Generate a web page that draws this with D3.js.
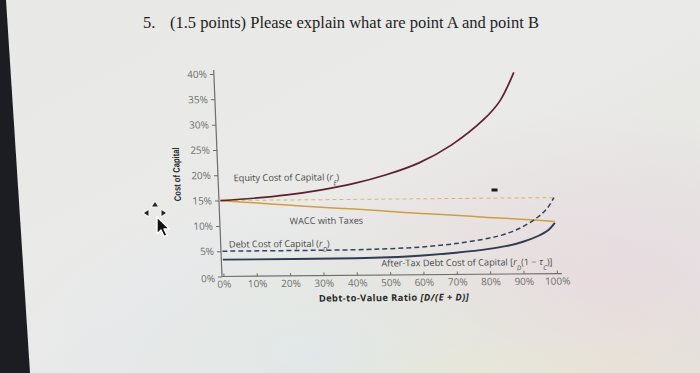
<!DOCTYPE html>
<html>
<head>
<meta charset="UTF-8">
<title>Cost of capital vs leverage</title>
<script src="https://d3js.org/d3.v7.min.js"></script>
<style>
  body { margin: 0; }
  .tick text { font-family: "Open Sans", sans-serif; font-size: 10px; fill: #707070; }
  .lbl { font-family: "Open Sans", sans-serif; font-size: 9.2px; fill: #4a4a4a; }
</style>
</head>
<body>
<script>
// values (percent)
const equityD    = [0, 10, 20, 30, 40, 50, 60, 70, 80, 85, 89.5];
const equityCost = [15, 15.4, 16.0, 16.9, 18.1, 19.8, 22.1, 25.6, 30.6, 34.2, 39.8];

const waccD   = [0, 10, 20, 30, 40, 50, 60, 70, 80, 90, 100];
const waccTax = [15, 14.5, 14.0, 13.5, 13.1, 12.6, 12.1, 11.7, 11.2, 10.8, 10.3];

const pretaxD    = [0, 100];
const pretaxWacc = [15, 15];

const debtD        = [0, 40, 50, 60, 70, 80, 85, 90, 95, 98, 100];
const debtCost     = [5, 5.05, 5.2, 5.5, 6.1, 7.1, 7.9, 9.2, 11.2, 13.0, 15];
const afterTaxCost = [3.33, 3.36, 3.5, 3.8, 4.3, 5.0, 5.5, 6.3, 7.5, 8.6, 10];

const xTicks = [0, 10, 20, 30, 40, 50, 60, 70, 80, 90, 100];
const yTicks = [0, 5, 10, 15, 20, 25, 30, 35, 40];

const W = 700, H = 373;
const svg = d3.select('body').append('svg').attr('width', W).attr('height', H);

// paper background
const defs = svg.append('defs');
const bg = defs.append('linearGradient').attr('id', 'paper')
  .attr('x1', 0).attr('y1', 0).attr('x2', 1).attr('y2', 1);
bg.append('stop').attr('offset', 0).attr('stop-color', '#e8e8e6');
bg.append('stop').attr('offset', 0.5).attr('stop-color', '#eaeae8');
bg.append('stop').attr('offset', 1).attr('stop-color', '#e2e3dd');
svg.append('rect').attr('width', W).attr('height', H).attr('fill', 'url(#paper)');

const glows = [
  {id: 'g1', cx: 0.62, cy: 1.0, c: '#f0f0b8'},
  {id: 'g2', cx: 0.85, cy: 0.75, c: '#e8d8e0'},
  {id: 'g3', cx: 0.45, cy: 0.95, c: '#dfe6f0'}
];
glows.forEach(g => {
  const r = defs.append('radialGradient').attr('id', g.id).attr('cx', g.cx).attr('cy', g.cy).attr('r', 0.45);
  r.append('stop').attr('offset', 0).attr('stop-color', g.c).attr('stop-opacity', 0.8);
  r.append('stop').attr('offset', 1).attr('stop-color', g.c).attr('stop-opacity', 0);
  svg.append('rect').attr('width', W).attr('height', H).attr('fill', 'url(#' + g.id + ')');
});

// dark edge on the left of the photo
svg.append('path').attr('d', 'M0,0L6,0L30,373L0,373Z').attr('fill', '#1c1d22');

// question
svg.append('text').attr('x', 143).attr('y', 28)
  .style('font-family', '"Liberation Serif", serif').style('font-size', '16.5px').attr('fill', '#1e1e1e')
  .text('5.');
svg.append('text').attr('x', 170).attr('y', 28)
  .style('font-family', '"Liberation Serif", serif').style('font-size', '16.5px').attr('fill', '#1e1e1e')
  .text('(1.5 points) Please explain what are point A and point B');

// chart, slightly sheared like the photo
const ox = 222, oy = 276.5;
const x = d3.scaleLinear().domain([0, 100]).range([223.5, 557]);
const y = d3.scaleLinear().domain([0, 40]).range([oy, 74]);

const g = svg.append('g')
  .attr('transform', `translate(${ox},${oy}) skewX(2.3) skewY(-0.5) translate(${-ox},${-oy})`);

// axes
g.append('line').attr('x1', ox).attr('x2', ox).attr('y1', 70).attr('y2', oy)
  .attr('stroke', '#6d6d6d').attr('stroke-width', 1.2);
g.append('line').attr('x1', ox).attr('x2', 562).attr('y1', oy).attr('y2', oy)
  .attr('stroke', '#6d6d6d').attr('stroke-width', 1.2);

const yAxis = g.append('g').attr('transform', `translate(${ox},0)`)
  .call(d3.axisLeft(y).tickValues(yTicks).tickFormat(d => d + '%').tickSize(4).tickPadding(3));
yAxis.select('.domain').remove();
yAxis.selectAll('.tick line').attr('stroke', '#6d6d6d');
yAxis.selectAll('.tick').filter(d => d === 0).select('text').attr('dy', '0.5em').attr('x', -7);

const xAxis = g.append('g').attr('transform', `translate(0,${oy})`)
  .call(d3.axisBottom(x).tickValues(xTicks).tickFormat(d => d + '%').tickSize(-3).tickPadding(4));
xAxis.select('.domain').remove();
xAxis.selectAll('.tick line').attr('stroke', '#6d6d6d');

// curves
const line = d3.line().curve(d3.curveCatmullRom.alpha(0.5)).x(d => x(d[0])).y(d => y(d[1]));
const series = [
  {xs: pretaxD, ys: pretaxWacc, color: '#dcb864', w: 1, dash: '4,3'},
  {xs: waccD, ys: waccTax, color: '#cf9f3e', w: 1.5, dash: null},
  {xs: debtD, ys: debtCost, color: '#34405c', w: 1.5, dash: '5,3'},
  {xs: debtD, ys: afterTaxCost, color: '#2f3a55', w: 1.9, dash: null},
  {xs: equityD, ys: equityCost, color: '#5e1f2e', w: 1.7, dash: null}
];
series.forEach(s => {
  g.append('path').datum(s.xs.map((d, i) => [d, s.ys[i]]))
    .attr('d', line).attr('fill', 'none')
    .attr('stroke', s.color).attr('stroke-width', s.w)
    .attr('stroke-dasharray', s.dash);
});

// curve labels
function label(dx, dy, parts) {
  const t = g.append('text').attr('class', 'lbl').attr('x', x(dx)).attr('y', y(dy));
  parts.forEach(p => {
    const ts = t.append('tspan').text(p.t);
    if (p.i) ts.style('font-style', 'italic');
    if (p.sub) ts.attr('baseline-shift', 'sub').style('font-size', '6.5px');
  });
}
label(4.2, 18.8, [{t: 'Equity Cost of Capital ('}, {t: 'r', i: 1}, {t: 'E', i: 1, sub: 1}, {t: ')'}]);
label(20.5, 10.2, [{t: 'WACC with Taxes'}]);
label(2, 5.7, [{t: 'Debt Cost of Capital ('}, {t: 'r', i: 1}, {t: 'D', i: 1, sub: 1}, {t: ')'}]);
label(47.5, 1.7, [{t: 'After-Tax Debt Cost of Capital ['}, {t: 'r', i: 1}, {t: 'D', i: 1, sub: 1},
  {t: '(1 \u2212 '}, {t: '\u03c4', i: 1}, {t: 'C', i: 1, sub: 1}, {t: ')]'}]);

// axis titles
const xt = g.append('text').attr('x', x(28.3)).attr('y', 302.5)
  .style('font-family', '"Open Sans", sans-serif').style('font-size', '9.4px')
  .style('font-weight', 'bold').attr('fill', '#2a2a2a')
  .attr('textLength', 150).attr('lengthAdjust', 'spacing');
xt.append('tspan').text('Debt-to-Value Ratio  ');
xt.append('tspan').style('font-style', 'italic').text('[D/(E + D)]');

g.append('text').attr('transform', `translate(${ox - 38},174) rotate(-90)`)
  .attr('text-anchor', 'middle')
  .style('font-family', '"Liberation Sans", sans-serif').style('font-size', '9.5px')
  .style('font-weight', 'bold').attr('fill', '#2a2a2a')
  .attr('textLength', 54).attr('lengthAdjust', 'spacingAndGlyphs')
  .text('Cost of Capital');

// small pen mark on the page
g.append('rect').attr('x', 495).attr('y', 191).attr('width', 6).attr('height', 3).attr('fill', '#1a1a1a');

// mouse cursor caught in the photo
const cur = svg.append('g').attr('transform', 'translate(155,213)');
const tri = [[0, -11, -3, -6.5, 3, -6.5], [-11, 0, -6.5, -3, -6.5, 3], [11, 0, 6.5, -3, 6.5, 3]];
tri.forEach(p => {
  cur.append('path').attr('d', `M${p[0]},${p[1]}L${p[2]},${p[3]}L${p[4]},${p[5]}Z`)
    .attr('fill', '#222').attr('stroke', '#fff').attr('stroke-width', 1.4).attr('paint-order', 'stroke');
});
cur.append('path').attr('d', 'M2,4L2,21L6,17L9,23.5L12,22.3L9,16L14.5,16Z')
  .attr('fill', '#111').attr('stroke', '#fff').attr('stroke-width', 1.4).attr('stroke-linejoin', 'round');
</script>
</body>
</html>
